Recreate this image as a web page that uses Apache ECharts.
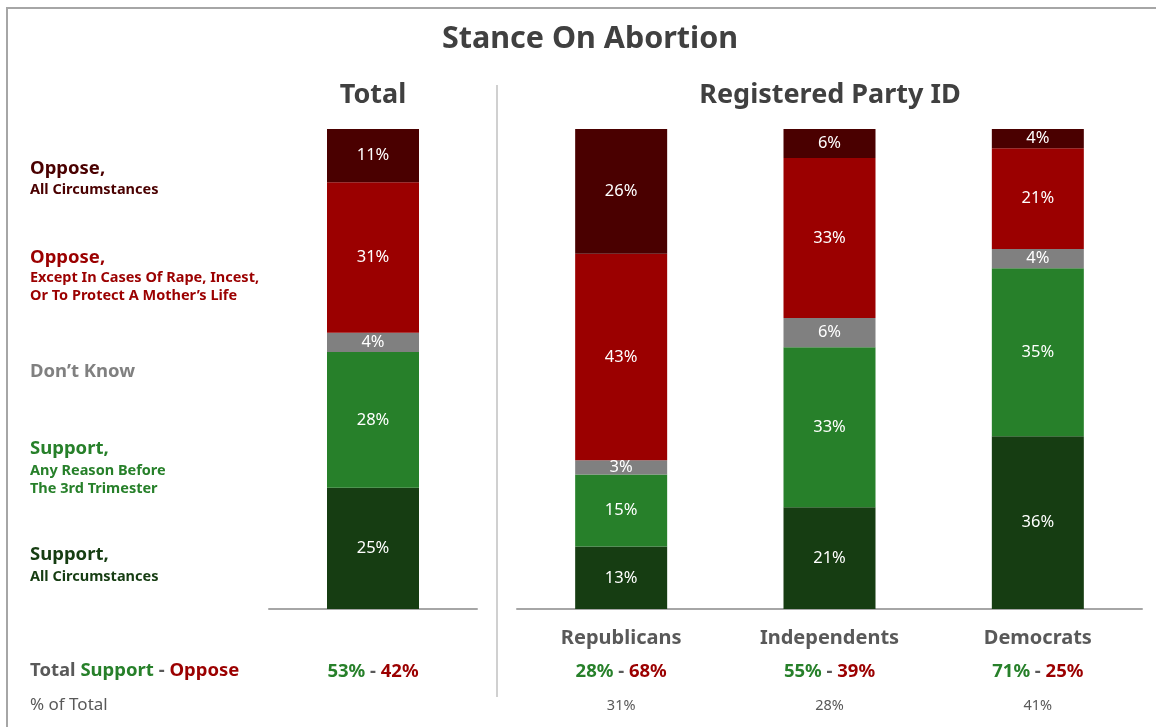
<!DOCTYPE html>
<html><head><meta charset="utf-8">
<script src="https://cdn.jsdelivr.net/npm/echarts@6/dist/echarts.min.js"></script>
<style>html,body{margin:0;padding:0;background:#fff}#c{width:1156px;height:727px}</style>
</head><body><div id="c"></div>
<script>
// ---- data ----
const totalCats = ['Total'];
const partyCats = ['Republicans', 'Independents', 'Democrats'];
const seriesNames = ['Support, All Circumstances', 'Support, Any Reason Before The 3rd Trimester', "Don't Know", 'Oppose, Except In Cases Of Rape, Incest, Or To Protect A Mother\u2019s Life', 'Oppose, All Circumstances'];
const totalSupportAll = [25];
const totalSupportAny = [28];
const totalDontKnow = [4];
const totalOpposeExcept = [31];
const totalOpposeAll = [11];
const partySupportAll = [13, 21, 36];
const partySupportAny = [15, 33, 35];
const partyDontKnow = [3, 6, 4];
const partyOpposeExcept = [43, 33, 21];
const partyOpposeAll = [26, 6, 4];
const totalSupportSum = [53];
const totalOpposeSum = [42];
const partySupportSum = [28, 55, 71];
const partyOpposeSum = [68, 39, 25];
const partyShare = [31, 28, 41];

const colors = ['#163d12', '#27802a', '#808080', '#9b0000', '#4a0000'];
const FONT = 'Noto Sans';

function shares(groups) {
  const n = groups[0].length;
  const sums = [];
  for (let i = 0; i < n; i++) { let s = 0; groups.forEach(g => s += g[i]); sums.push(s); }
  return groups.map(g => g.map((v, i) => ({ value: v / sums[i] * 100, raw: v })));
}
const totalData = shares([totalSupportAll, totalSupportAny, totalDontKnow, totalOpposeExcept, totalOpposeAll]);
const partyData = shares([partySupportAll, partySupportAny, partyDontKnow, partyOpposeExcept, partyOpposeAll]);

const series = [];
[totalData, partyData].forEach((grp, gi) => {
  grp.forEach((d, si) => {
    series.push({
      name: seriesNames[si], type: 'bar', stack: 's' + gi, xAxisIndex: gi, yAxisIndex: gi,
      barWidth: 92, data: d, itemStyle: { color: colors[si] },
      label: { show: true, position: 'inside', color: '#fff', fontFamily: FONT, fontSize: 16.5,
        formatter: p => p.data.raw + '%' },
      emphasis: { disabled: true }
    });
  });
});

const rich = {
  n: { fontFamily: FONT, fontSize: 20, fontWeight: 'bold', color: '#595959', lineHeight: 34 },
  g: { fontFamily: FONT, fontSize: 18.5, fontWeight: 'bold', color: '#27802a', lineHeight: 34 },
  d: { fontFamily: FONT, fontSize: 18.5, fontWeight: 'bold', color: '#595959', lineHeight: 34 },
  r: { fontFamily: FONT, fontSize: 18.5, fontWeight: 'bold', color: '#9b0000', lineHeight: 34 },
  s: { fontFamily: FONT, fontSize: 14.5, color: '#595959', lineHeight: 34 }
};

const axisCommon = {
  type: 'category', axisTick: { show: false },
  axisLine: { lineStyle: { color: '#a6a6a6', width: 2 } }
};

function t(x, y, text, font, fill, align) {
  return { type: 'text', x: x, y: y, silent: true,
    style: { text: text, font: font, fill: fill, textAlign: align || 'left', textVerticalAlign: 'middle' } };
}
const big = 'bold 18.5px "Noto Sans"';
const small = 'bold 14.5px "Noto Sans"';

const option = {
  animation: false,
  grid: [
    { left: 269, width: 208, top: 129, bottom: 118 },
    { left: 517, width: 625, top: 129, bottom: 118 }
  ],
  xAxis: [
    Object.assign({}, axisCommon, { gridIndex: 0, data: totalCats,
      axisLabel: { margin: 12, lineHeight: 34, rich: rich,
        formatter: (v, i) => '{n| }\n{g|' + totalSupportSum[i] + '%}{d| - }{r|' + totalOpposeSum[i] + '%}' } }),
    Object.assign({}, axisCommon, { gridIndex: 1, data: partyCats,
      axisLabel: { margin: 12, lineHeight: 34, rich: rich,
        formatter: (v, i) => '{n|' + v + '}\n{g|' + partySupportSum[i] + '%}{d| - }{r|' + partyOpposeSum[i] + '%}\n{s|' + partyShare[i] + '%}' } })
  ],
  yAxis: [
    { type: 'value', gridIndex: 0, min: 0, max: 100, show: false },
    { type: 'value', gridIndex: 1, min: 0, max: 100, show: false }
  ],
  series: series,
  graphic: [
    { type: 'rect', shape: { x: 7, y: 8, width: 1170, height: 740 }, style: { fill: 'none', stroke: '#a6a6a6', lineWidth: 2 }, silent: true },
    { type: 'line', shape: { x1: 497, y1: 85, x2: 497, y2: 697 }, style: { stroke: '#d0d0d0', lineWidth: 2 }, silent: true },
    t(590, 39, 'Stance On Abortion', 'bold 30.5px "Noto Sans"', '#404040', 'center'),
    t(373, 95, 'Total', 'bold 27px "Noto Sans"', '#404040', 'center'),
    t(830, 95, 'Registered Party ID', 'bold 27px "Noto Sans"', '#404040', 'center'),

    t(30, 169, 'Oppose,', big, '#4a0000'),
    t(30, 190, 'All Circumstances', small, '#4a0000'),
    t(30, 258, 'Oppose,', big, '#9b0000'),
    t(30, 278, 'Except In Cases Of Rape, Incest,', small, '#9b0000'),
    t(30, 296, 'Or To Protect A Mother\u2019s Life', small, '#9b0000'),
    t(30, 372, 'Don\u2019t Know', big, '#808080'),
    t(30, 449, 'Support,', big, '#27802a'),
    t(30, 471, 'Any Reason Before', small, '#27802a'),
    t(30, 489, 'The 3rd Trimester', small, '#27802a'),
    t(30, 555, 'Support,', big, '#163d12'),
    t(30, 577, 'All Circumstances', small, '#163d12'),

    { type: 'text', x: 30, y: 671, silent: true, style: { text: '{d|Total }{g|Support}{d| - }{r|Oppose}', rich: {
        d: { font: 'bold 18.5px "Noto Sans"', fill: '#595959' },
        g: { font: 'bold 18.5px "Noto Sans"', fill: '#27802a' },
        r: { font: 'bold 18.5px "Noto Sans"', fill: '#9b0000' } }, textVerticalAlign: 'middle' } },
    t(30, 705, '% of Total', '17px "Noto Sans"', '#595959')
  ]
};
const chart = echarts.init(document.getElementById('c'));
chart.setOption(option);
</script>
</body></html>
